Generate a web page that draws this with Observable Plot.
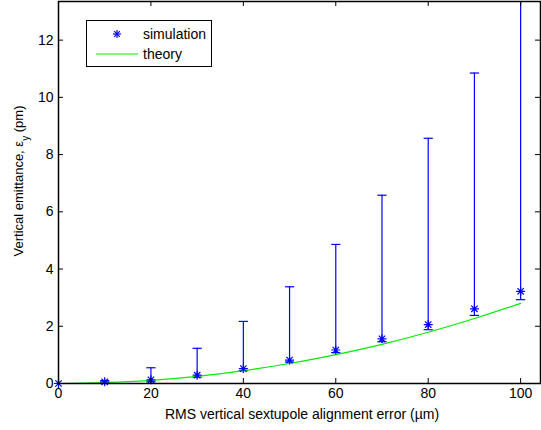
<!DOCTYPE html>
<html>
<head>
<meta charset="utf-8">
<script src="https://cdn.jsdelivr.net/npm/d3@7"></script>
<script src="https://cdn.jsdelivr.net/npm/@observablehq/plot@0.6"></script>
<style>
  html, body { margin: 0; padding: 0; background: #fff; }
  #wrap { position: relative; width: 541px; height: 430px; font-family: "Liberation Sans", Arial, sans-serif; }
  #legend { position: absolute; left: 86px; top: 20px; width: 124px; height: 45px; border: 1.5px solid #000; background: #fff; font-size: 13px; }
</style>
</head>
<body>
<div id="wrap"></div>
<script>
// ---- data ----
const errors = [0, 10, 20, 30, 40, 50, 60, 70, 80, 90, 100];           // RMS alignment error (µm)
const simMean = [0.0, 0.06, 0.13, 0.29, 0.52, 0.82, 1.17, 1.56, 2.06, 2.61, 3.22];
const simLow  = [0.0, 0.02, 0.06, 0.22, 0.45, 0.75, 1.08, 1.46, 1.88, 2.38, 2.93];
const simHigh = [0.0, 0.10, 0.55, 1.23, 2.17, 3.38, 4.86, 6.58, 8.57, 10.85, 14.5];
const theoryX = [0, 10, 20, 30, 40, 50, 60, 70, 80, 90, 100];
const theoryY = [0.0, 0.03, 0.11, 0.25, 0.45, 0.70, 1.01, 1.37, 1.79, 2.27, 2.80];
const xTicks = [0, 20, 40, 60, 80, 100];
const yTicks = [0, 2, 4, 6, 8, 10, 12];

const sim = errors.map((x, i) => ({x, y: simMean[i], lo: simLow[i], hi: simHigh[i]}));
const theory = theoryX.map((x, i) => ({x, y: theoryY[i]}));
const bars = sim.filter(d => d.hi > d.lo);

const asterisk = {
  draw(ctx, size) {
    const r = Math.sqrt(size / Math.PI);
    const d = r * 0.7071;
    ctx.moveTo(-r, 0); ctx.lineTo(r, 0);
    ctx.moveTo(0, -r); ctx.lineTo(0, r);
    ctx.moveTo(-d, -d); ctx.lineTo(d, d);
    ctx.moveTo(-d, d); ctx.lineTo(d, -d);
  }
};

const W = 541, H = 430, mL = 58, mR = 1, mT = 1, mB = 47;
const innerH = H - mT - mB;
const innerW = W - mL - mR;
const blue = "#0000ff", green = "#00ee00";

const chart = Plot.plot({
  width: W, height: H,
  marginLeft: mL, marginRight: mR, marginTop: mT, marginBottom: mB,
  style: {fontFamily: "Liberation Sans, Arial, sans-serif", fontSize: "14px", color: "#000", background: "#fff", overflow: "visible"},
  x: {domain: [0, 104.3]},
  y: {domain: [0, 13.35]},
  marks: [
    Plot.ruleX(bars, {x: "x", y1: "lo", y2: "hi", stroke: blue, strokeWidth: 1.2, clip: true}),
    Plot.link(bars, {x1: d => d.x - 1, x2: d => d.x + 1, y1: "hi", y2: "hi", stroke: blue, strokeWidth: 1.2, clip: true}),
    Plot.link(bars, {x1: d => d.x - 1, x2: d => d.x + 1, y1: "lo", y2: "lo", stroke: blue, strokeWidth: 1.2, clip: true}),
    Plot.line(theory, {x: "x", y: "y", stroke: green, strokeWidth: 1.2, curve: "monotone-x"}),
    Plot.dot(sim, {x: "x", y: "y", symbol: asterisk, r: 4.5, stroke: blue, strokeWidth: 1.2, fill: "none"}),
    // inward ticks
    Plot.ruleX(xTicks, {x: d => d, insetTop: innerH - 5, stroke: "#000"}),
    Plot.ruleX(xTicks, {x: d => d, insetBottom: innerH - 5, stroke: "#000"}),
    Plot.ruleY(yTicks, {y: d => d, insetRight: innerW - 5, stroke: "#000"}),
    Plot.ruleY(yTicks, {y: d => d, insetLeft: innerW - 5, stroke: "#000"}),
    Plot.axisX(xTicks, {tickSize: 0, tickPadding: 5, label: null, fontSize: 14}),
    Plot.axisY(yTicks, {tickSize: 0, tickPadding: 5, label: null, fontSize: 14}),
    Plot.frame({stroke: "#000", strokeWidth: 1.5})
  ]
});

const svg = d3.select(chart);
svg.append("text")
  .attr("x", 302).attr("y", 419)
  .attr("text-anchor", "middle").attr("font-size", 14).attr("fill", "#000")
  .text("RMS vertical sextupole alignment error (µm)");
const yl = svg.append("text")
  .attr("transform", "translate(23,181) rotate(-90)")
  .attr("text-anchor", "middle").attr("font-size", 13).attr("fill", "#000");
yl.append("tspan").text("Vertical emittance, ε");
yl.append("tspan").attr("baseline-shift", "sub").attr("font-size", 10).text("y");
yl.append("tspan").text(" (pm)");

const wrap = document.getElementById("wrap");
wrap.appendChild(chart);

const legend = document.createElement("div");
legend.id = "legend";
legend.innerHTML = `
<svg width="124" height="45" style="position:absolute;left:0;top:0">
  <g stroke="${blue}" stroke-width="1.2" transform="translate(30,13)">
    <line x1="-4" y1="0" x2="4" y2="0"/><line x1="0" y1="-4" x2="0" y2="4"/>
    <line x1="-2.8" y1="-2.8" x2="2.8" y2="2.8"/><line x1="-2.8" y1="2.8" x2="2.8" y2="-2.8"/>
  </g>
  <line x1="9" y1="33" x2="51" y2="33" stroke="${green}" stroke-width="1.2"/>
  <text x="56" y="18" font-size="14" font-family="Liberation Sans, Arial, sans-serif">simulation</text>
  <text x="56" y="38" font-size="14" font-family="Liberation Sans, Arial, sans-serif">theory</text>
</svg>`;
wrap.appendChild(legend);
</script>
</body>
</html>
